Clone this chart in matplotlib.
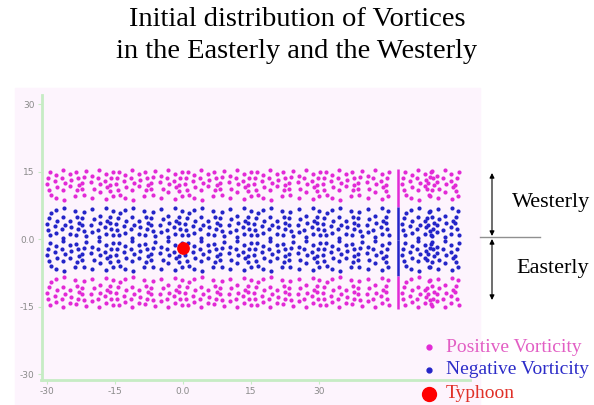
import numpy as np
import matplotlib.pyplot as plt
from matplotlib.patches import Rectangle

### Data
# one repeat of the vortex pattern: (dx, dy) with dy measured down from the band top
motif_a = [(0.7, -0.6), (0.2, -1.9), (0.1, -3.2), (0.4, -4.5), (0.9, -5.7),
           (2.1, -1.2), (1.8, -2.6), (2.2, -3.9), (2.0, -6.3),
           (3.6, -0.1), (3.4, -2.0), (4.0, -3.0), (3.6, -4.6), (3.8, -6.8),
           (5.1, -1.0), (5.4, -2.4), (5.1, -3.8),
           (6.5, -0.7), (6.9, -2.0), (7.0, -3.4), (6.7, -4.7), (6.2, -6.0)]
motif_b = [(1.1, -0.4), (0.6, -1.7), (0.2, -3.0), (0.1, -4.4), (0.5, -5.8),
           (2.3, -1.4), (2.2, -2.9), (2.7, -4.3), (2.4, -6.4),
           (3.9, -0.2), (3.6, -1.9), (4.1, -3.3), (4.0, -5.0),
           (5.4, -1.0), (5.2, -2.5), (5.7, -3.9), (5.5, -6.6),
           (7.0, -0.6), (6.6, -2.0), (6.3, -3.4), (6.4, -4.8), (6.9, -6.0)]
cell_x = [-30.0, -22.4, -14.8, -7.2, 0.4, 8.0, 15.6, 23.2, 30.8, 38.4, 48.3, 53.8]
band_tops = [15.5, 7.2, -0.3, -8.2]                  # pink, blue, blue, pink
band_kind = ['pos', 'neg', 'neg', 'pos']
band_flip = [False, True, False, True]
split_x = 47.5                                       # the solid column of vortices
typhoon_x, typhoon_y = [0.0], [-2.0]

xticks = [-30, -15, 0, 15, 30]
xtick_labels = ['-30', '-15', '0.0', '15', '30']
yticks = [30, 15, 0, -15, -30]
ytick_labels = ['30', '15', '0.0', '-15', '-30']

pos_color = '#e22ad6'
neg_color = '#2424c8'
bg_color = '#fdf4fd'
spine_color = '#c6ecc4'


def band_points(top, flip):
    xs, ys = [], []
    for i, x0 in enumerate(cell_x):
        motif = motif_a if i % 2 == 0 else motif_b
        for dx, dy in motif:
            if flip:
                dy = -7.0 - dy
            xs.append(x0 + dx)
            ys.append(top + dy)
    return xs, ys


fig = plt.figure(figsize=(5.94, 4.05), dpi=100)
fig.patches.append(Rectangle((15 / 594, 0), 465 / 594, 1 - 88 / 405,
                             transform=fig.transFigure, color=bg_color, zorder=-5))

ax = fig.add_axes([41.5 / 594, 25 / 405, 428.5 / 594, 285 / 405])
ax.set_facecolor(bg_color)
ax.set_zorder(2)
ax.set_xlim(-31.2, 63.3)
ax.set_ylim(-31.3, 32.0)

edges = band_tops + [-15.6]
for i, (top, kind, flip) in enumerate(zip(band_tops, band_kind, band_flip)):
    xs, ys = band_points(top, flip)
    c = pos_color if kind == 'pos' else neg_color
    ax.scatter(xs, ys, s=9, color=c, linewidths=0, zorder=3)
    ax.vlines(split_x, edges[i + 1], top, color=c, linewidth=1.8, zorder=3)

ax.scatter(typhoon_x, typhoon_y, s=85, color='red', linewidths=0, zorder=4)

for side in ['top', 'right']:
    ax.spines[side].set_visible(False)
for side in ['left', 'bottom']:
    ax.spines[side].set_color(spine_color)
    ax.spines[side].set_linewidth(2)
ax.set_xticks(xticks)
ax.set_xticklabels(xtick_labels)
ax.set_yticks(yticks)
ax.set_yticklabels(ytick_labels)
ax.tick_params(length=3, color=spine_color, labelsize=6.5, labelcolor='#8a8a8a', pad=2)

### Title
fig.text(0.5, 1 - 20 / 405, 'Initial distribution of Vortices', ha='center', va='center',
         family='Liberation Serif', fontsize=20.5)
fig.text(0.5, 1 - 52 / 405, 'in the Easterly and the Westerly', ha='center', va='center',
         family='Liberation Serif', fontsize=20.5)

### Westerly / Easterly arrows
def fx(px):
    return px / 594


def fy(py):
    return 1 - py / 405


arrow = dict(arrowstyle='<|-|>', color='black', lw=0.8, mutation_scale=7,
             shrinkA=0, shrinkB=0)
fig.add_artist(plt.Line2D([fx(480), fx(540)], [fy(237), fy(237)], color='#909090', lw=1))
ax.annotate('', xy=(fx(492), fy(173)), xytext=(fx(492), fy(236)),
            xycoords='figure fraction', arrowprops=arrow, annotation_clip=False)
ax.annotate('', xy=(fx(492), fy(239)), xytext=(fx(492), fy(300)),
            xycoords='figure fraction', arrowprops=arrow, annotation_clip=False)
fig.text(fx(551), fy(203), 'Westerly', ha='center', va='center',
         family='Liberation Serif', fontsize=16)
fig.text(fx(553), fy(268), 'Easterly', ha='center', va='center',
         family='Liberation Serif', fontsize=16)

### Legend
leg_items = [('Positive Vorticity', pos_color, '#e25ec4', 347, 3.5),
             ('Negative Vorticity', neg_color, '#2c2cc8', 370, 3.5),
             ('Typhoon', 'red', '#e03028', 394, 10)]
for label, mc, tc, py, ms in leg_items:
    fig.add_artist(plt.Line2D([fx(429)], [fy(py)], marker='o', markersize=ms,
                              color=mc, linestyle='None', zorder=10))
    fig.text(fx(446), fy(py), label, ha='left', va='center', color=tc,
             family='Liberation Serif', fontsize=14, zorder=10)

plt.savefig('out.png', dpi=100)
